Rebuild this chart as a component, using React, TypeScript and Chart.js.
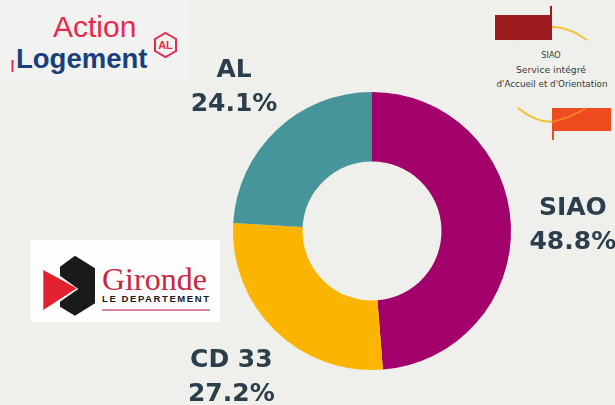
import React, { useEffect, useRef } from "react";
import { Chart, registerables } from "chart.js";

Chart.register(...registerables);

const categories = ["SIAO", "CD 33", "AL"];
const shares = [48.8, 27.2, 24.1];
const sliceColors = ["#a2006b", "#fbb500", "#46959a"];
const TEXT = "#2c3e4b";
const BG = "#efefeb";

const outerLabels = {
  id: "outerLabels",
  afterDatasetsDraw(chart: any) {
    const ctx = chart.ctx;
    const meta = chart.getDatasetMeta(0);
    meta.data.forEach((arc: any, i: number) => {
      const p = arc.getProps(["startAngle", "endAngle", "outerRadius", "x", "y"], true);
      const a = (p.startAngle + p.endAngle) / 2;
      const r = p.outerRadius + 62;
      const cx = p.x + Math.cos(a) * r;
      const cy = p.y + Math.sin(a) * r;
      ctx.save();
      ctx.fillStyle = TEXT;
      ctx.font = 'bold 25px "DejaVu Sans"';
      ctx.textAlign = "center";
      ctx.textBaseline = "alphabetic";
      ctx.fillText(categories[i], cx, cy - 8);
      ctx.fillText(shares[i].toFixed(1) + "%", cx, cy + 26);
      ctx.restore();
    });
  },
};

function Logos() {
  return (
    <svg width={615} height={405} style={{ position: "absolute", left: 0, top: 0 }}>
      {/* Action Logement */}
      <rect x={0} y={0} width={190} height={82} fill="#f2f2f0" />
      <text x={53} y={37} fontFamily="Liberation Sans" fontSize={30} fill="#e62a4d">Action</text>
      <rect x={11.5} y={60} width={2} height={12} fill="#e62a4d" />
      <text x={16} y={68} fontFamily="Liberation Sans" fontWeight="bold" fontSize={27.5} fill="#1a3f7d">Logement</text>
      <polygon points="165.5,33 176,39 176,51 165.5,57 155,51 155,39" fill="none" stroke="#e62a4d" strokeWidth={2} />
      <text x={165.5} y={49} textAnchor="middle" fontFamily="Liberation Sans" fontWeight="bold" fontSize={11} fill="#e62a4d">AL</text>

      {/* SIAO */}
      <path d="M518,40 Q552,14 587,40" fill="none" stroke="#f4c130" strokeWidth={2} />
      <path d="M518,108 Q552,136 586,108" fill="none" stroke="#f4c130" strokeWidth={2} />
      <rect x={495} y={15} width={57} height={25} fill="#9e1b20" />
      <rect x={550} y={6} width={2} height={10} fill="#9e1b20" />
      <rect x={552} y={108} width={59} height={23} fill="#ee4b1e" />
      <rect x={552} y={130} width={2} height={10} fill="#ee4b1e" />
      <path d="M552,122 Q570,118 586,108" fill="none" stroke="#f4c130" strokeWidth={2} opacity={0.5} />
      <g fontFamily="'DejaVu Sans Condensed', 'DejaVu Sans', sans-serif" fontSize={9} fill="#3a3a3a" textAnchor="middle">
        <text x={551} y={58}>SIAO</text>
        <text x={551} y={73} textLength={70} lengthAdjust="spacingAndGlyphs">Service intégré</text>
        <text x={552} y={87} textLength={111} lengthAdjust="spacingAndGlyphs">d'Accueil et d'Orientation</text>
      </g>

      {/* Gironde */}
      <rect x={31} y={240} width={189} height={82} fill="#fdfdfd" />
      <polygon points="60,266.7 75,255.7 95,268.3 95,303.3 75,315.7 60,306.7 60,301.7 78.3,289 60,275.7" fill="#1a1a1a" />
      <polygon points="43.3,270 76.7,288.3 43.3,310" fill="#e2202e" />
      <text x={102} y={290} fontFamily="Liberation Serif" fontSize={32} fill="#c8283e">Gironde</text>
      <text x={102} y={302} fontFamily="Liberation Sans" fontWeight="bold" fontSize={9.5} fill="#1a1a1a" textLength={107} lengthAdjust="spacing">LE DEPARTEMENT</text>
      <rect x={102} y={309} width={108} height={2} fill="#d4869a" />
    </svg>
  );
}

export default function App() {
  const canvasRef = useRef<HTMLCanvasElement | null>(null);

  useEffect(() => {
    document.body.style.margin = "0";
    document.body.style.background = BG;
    const canvas = canvasRef.current;
    if (!canvas) return;
    const chart = new Chart(canvas, {
      type: "doughnut",
      data: {
        labels: categories,
        datasets: [
          {
            data: shares,
            backgroundColor: sliceColors,
            borderWidth: 0,
          },
        ],
      },
      options: {
        responsive: false,
        animation: false,
        cutout: "50%",
        layout: { padding: { top: 92, bottom: 35, left: 233, right: 104 } },
        plugins: {
          legend: { display: false },
          tooltip: { enabled: false },
        },
      },
      plugins: [outerLabels],
    });
    return () => chart.destroy();
  }, []);

  return (
    <div style={{ position: "fixed", left: 0, top: 0, width: 615, height: 405, background: BG, overflow: "hidden" }}>
      <Logos />
      <canvas ref={canvasRef} width={615} height={405} style={{ position: "absolute", left: 0, top: 0 }} />
    </div>
  );
}
